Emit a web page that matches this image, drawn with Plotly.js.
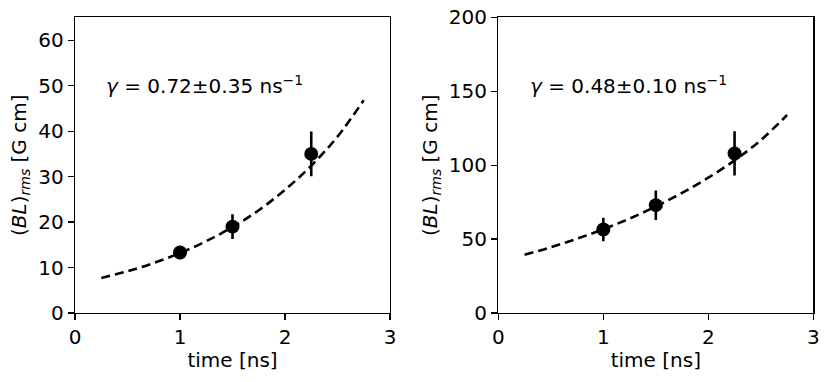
<!DOCTYPE html>
<html>
<head>
<meta charset="utf-8">
<script src="https://cdn.plot.ly/plotly-3.0.1.min.js"></script>
<style>
body { margin: 0; background: white; }
#growth-plots { width: 831px; height: 382px; }
</style>
</head>
<body>
<div id="growth-plots"></div>
<script>
// measured points, time in ns
let timeData = [1.0, 1.5, 2.25];
let blLeft = [13.3, 19.0, 35.0];
let errLeft = [1.5, 2.7, 4.9];
let blRight = [56.5, 73.0, 108.0];
let errRight = [8.0, 10.0, 15.0];

// fitted curves
let fitTime = [0.25, 0.5, 0.75, 1.0, 1.25, 1.5, 1.75, 2.0, 2.25, 2.5, 2.75];
let fitLeft = [7.7, 9.2, 11.0, 13.2, 15.8, 18.9, 22.6, 27.1, 32.4, 38.8, 46.8];
let fitRight = [39.5, 44.5, 50.3, 56.7, 63.9, 72.1, 81.3, 91.6, 103.3, 117.0, 134.0];

let gammaLeft = "0.72±0.35";
let gammaRight = "0.48±0.10";

let fnt = "DejaVu Sans";
let fsize = 20;

function pointTrace(y, err, xa, ya)
{
    return {
        x: timeData,
        y: y,
        xaxis: xa,
        yaxis: ya,
        mode: 'markers',
        type: 'scatter',
        hoverinfo: 'skip',
        error_y: {type: 'data', array: err, visible: true, color: 'black', thickness: 2.6, width: 0},
        marker: {size: 14, color: 'black'}
    };
}

function fitTrace(y, xa, ya)
{
    return {
        x: fitTime,
        y: y,
        xaxis: xa,
        yaxis: ya,
        mode: 'lines',
        type: 'scatter',
        hoverinfo: 'skip',
        line: {color: 'black', width: 2.6, dash: '9px,5px', shape: 'spline'}
    };
}

function xAxis(dom, anchor)
{
    return {
        domain: dom,
        anchor: anchor,
        range: [0, 3],
        tickvals: [0, 1, 2, 3],
        ticks: 'outside',
        ticklen: 6,
        tickwidth: 1.3,
        tickcolor: 'black',
        showline: true,
        mirror: true,
        linecolor: 'black',
        linewidth: 1.3,
        showgrid: false,
        zeroline: false,
        tickfont: {family: fnt, size: fsize, color: 'black'},
        title: {text: 'time [ns]', font: {family: fnt, size: fsize, color: 'black'}, standoff: 4}
    };
}

function yAxis(range, tv, anchor)
{
    return {
        domain: [0.1806, 0.9542],
        anchor: anchor,
        range: range,
        tickvals: tv,
        ticks: 'outside',
        ticklen: 6,
        tickwidth: 1.3,
        tickcolor: 'black',
        showline: true,
        mirror: true,
        linecolor: 'black',
        linewidth: 1.3,
        showgrid: false,
        zeroline: false,
        tickfont: {family: fnt, size: fsize, color: 'black'},
        title: {text: '(<i>BL</i>)<sub><i>rms</i></sub> [G cm]', font: {family: fnt, size: fsize, color: 'black'}, standoff: 6}
    };
}

function gammaNote(val, xr, yr, yv)
{
    return {
        xref: xr,
        yref: yr,
        x: 0.28,
        y: yv,
        xanchor: 'left',
        yanchor: 'middle',
        showarrow: false,
        text: '<i>γ</i> = ' + val + ' ns<sup>−1</sup>',
        font: {family: fnt, size: fsize, color: 'black'}
    };
}

function plotGrowth()
{
    let data = [
        fitTrace(fitLeft, 'x', 'y'),
        pointTrace(blLeft, errLeft, 'x', 'y'),
        fitTrace(fitRight, 'x2', 'y2'),
        pointTrace(blRight, errRight, 'x2', 'y2')
    ];
    let layout = {
        width: 831,
        height: 382,
        margin: {l: 0, r: 0, t: 0, b: 0},
        showlegend: false,
        paper_bgcolor: 'white',
        plot_bgcolor: 'white',
        xaxis: xAxis([0.0903, 0.4693], 'y'),
        yaxis: yAxis([0, 65], [0, 10, 20, 30, 40, 50, 60], 'x'),
        xaxis2: xAxis([0.5997, 0.9787], 'y2'),
        yaxis2: yAxis([0, 200], [0, 50, 100, 150, 200], 'x2'),
        annotations: [
            gammaNote(gammaLeft, 'x', 'y', 50.2),
            gammaNote(gammaRight, 'x2', 'y2', 154.5)
        ]
    };
    Plotly.newPlot('growth-plots', data, layout, {staticPlot: true});
}

plotGrowth();
</script>
</body>
</html>
